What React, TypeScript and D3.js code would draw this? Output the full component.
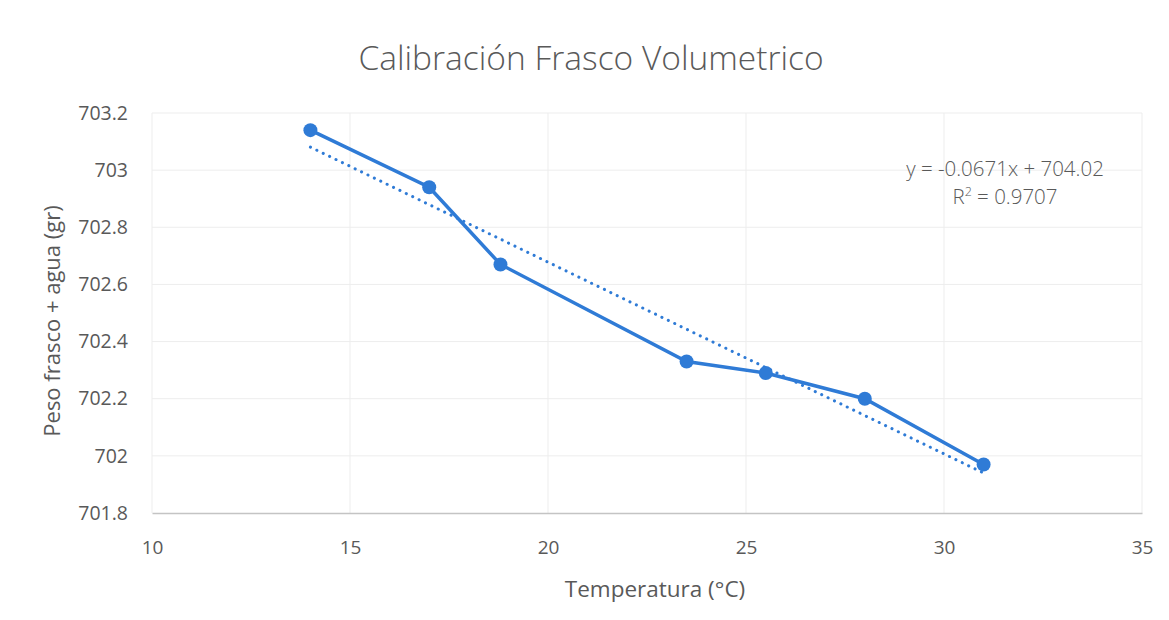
import * as d3 from 'd3'
import { useEffect, useRef } from 'react'

const temps = [14, 17, 18.8, 23.5, 25.5, 28, 31]
const weights = [703.14, 702.94, 702.67, 702.33, 702.29, 702.2, 701.97]
const xTicks = [10, 15, 20, 25, 30, 35]
const yTicks = [701.8, 702, 702.2, 702.4, 702.6, 702.8, 703, 703.2]
const slope = -0.0671
const intercept = 704.02
const eqLabel = 'y = -0.0671x + 704.02'
const r2Value = '0.9707'

const width = 1169
const height = 620
const marginLeft = 152
const marginRight = 27
const marginTop = 113
const marginBottom = 107
const font = "'Open Sans', 'Noto Sans', sans-serif"
const blue = '#2f7bd6'
const grey = '#595959'

export default function App() {
  const gx = useRef<SVGGElement>(null)
  const gy = useRef<SVGGElement>(null)

  const x = d3.scaleLinear([10, 35], [marginLeft, width - marginRight])
  const y = d3.scaleLinear([701.8, 703.2], [height - marginBottom, marginTop])

  const pts = temps.map((t, i) => [t, weights[i]] as [number, number])
  const line = d3
    .line<[number, number]>()
    .x((d) => x(d[0]))
    .y((d) => y(d[1]))
  const tx = d3.extent(temps) as [number, number]
  const trend = tx.map((t) => [t, slope * t + intercept] as [number, number])

  useEffect(() => {
    const g = d3.select(gx.current as SVGGElement)
    g.call(d3.axisBottom(x).tickValues(xTicks).tickSize(0).tickPadding(28))
    g.select('.domain').attr('stroke', '#c4c4c4').attr('stroke-width', 1.5)
    g.selectAll('text')
      .attr('font-size', 19)
      .attr('font-family', font)
      .attr('fill', grey)
  }, [])

  useEffect(() => {
    const g = d3.select(gy.current as SVGGElement)
    g.call(
      d3
        .axisLeft(y)
        .tickValues(yTicks)
        .tickSize(0)
        .tickPadding(24)
        .tickFormat((d) => d3.format('~f')(+(+d).toFixed(1)))
    )
    g.select('.domain').remove()
    g.selectAll('text')
      .attr('font-size', 19.5)
      .attr('font-family', font)
      .attr('fill', grey)
  }, [])

  return (
    <svg width={width} height={height} style={{ position: 'absolute', left: 0, top: 0 }}>
      <rect width={width} height={height} fill="white" />
      <text
        x={591}
        y={70}
        textAnchor="middle"
        fontSize={33.5}
        fontWeight={300}
        fontFamily={font}
        fill={grey}
      >
        Calibración Frasco Volumetrico
      </text>
      {yTicks.slice(1).map((t) => (
        <line
          key={'gy' + t}
          x1={marginLeft}
          x2={width - marginRight}
          y1={y(t)}
          y2={y(t)}
          stroke="#ededed"
          strokeWidth={1}
        />
      ))}
      {xTicks.map((t) => (
        <line
          key={'gx' + t}
          x1={x(t)}
          x2={x(t)}
          y1={marginTop}
          y2={height - marginBottom}
          stroke="#ededed"
          strokeWidth={1}
        />
      ))}
      <g ref={gx} transform={`translate(0,${height - marginBottom})`} />
      <g ref={gy} transform={`translate(${marginLeft},0)`} />
      <path
        d={line(trend) as string}
        fill="none"
        stroke={blue}
        strokeWidth={3}
        strokeDasharray="0.1 7"
        strokeLinecap="round"
      />
      <path d={line(pts) as string} fill="none" stroke={blue} strokeWidth={3.5} />
      {pts.map((p, i) => (
        <circle key={i} cx={x(p[0])} cy={y(p[1])} r={7} fill={blue} />
      ))}
      <text
        x={1005}
        y={176}
        textAnchor="middle"
        fontSize={20.5}
        fontWeight={300}
        fontFamily={font}
        fill={grey}
      >
        {eqLabel}
      </text>
      <text
        x={1005}
        y={204}
        textAnchor="middle"
        fontSize={20.5}
        fontWeight={300}
        fontFamily={font}
        fill={grey}
      >
        R<tspan dy={-8} fontSize={12.5}>2</tspan>
        <tspan dy={8}>{' = ' + r2Value}</tspan>
      </text>
      <text
        x={655}
        y={597}
        textAnchor="middle"
        fontSize={22.5}
        fontFamily={font}
        fill={grey}
      >
        Temperatura (°C)
      </text>
      <text
        transform={`translate(60,${(marginTop + height - marginBottom) / 2 + 8}) rotate(-90)`}
        textAnchor="middle"
        fontSize={22}
        fontFamily={font}
        fill={grey}
      >
        Peso frasco + agua (gr)
      </text>
    </svg>
  )
}
